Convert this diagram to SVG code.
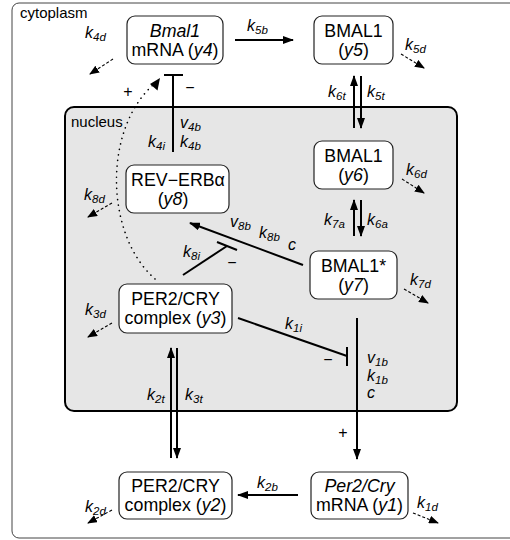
<svg xmlns="http://www.w3.org/2000/svg" width="510" height="540" viewBox="0 0 510 540">
<style>
text{font-family:"Liberation Sans",Arial,sans-serif;fill:#000}
.node rect{fill:#fff;stroke:#222;stroke-width:1.2}
.nt{font-size:17.8px;text-anchor:middle}
.it{font-style:italic}
.lb{font-size:16px;font-style:italic}
.sub{font-size:11.5px}
.sg{font-size:16px;text-anchor:middle}
.ar{stroke:#000;stroke-width:2;fill:none}
.da{stroke:#000;stroke-width:1.1;stroke-dasharray:3 2;fill:none}
.dot{stroke:#000;stroke-width:1.6;stroke-dasharray:0.1 5.5;stroke-linecap:round;fill:none}
</style>
<defs>
<marker id="ah" markerUnits="userSpaceOnUse" markerWidth="11" markerHeight="8" refX="10" refY="4" orient="auto"><path d="M0,0 L11,4 L0,8 z" fill="#000"/></marker>
<marker id="dh" markerUnits="userSpaceOnUse" markerWidth="10" markerHeight="8" refX="9" refY="4" orient="auto"><path d="M0,0 L10,4 L0,8 z" fill="#000"/></marker>
</defs>
<rect x="12" y="3" width="520" height="535" rx="7" fill="none" stroke="#444" stroke-width="1"/>
<rect x="65" y="107" width="392" height="304" rx="9" fill="#e6e6e6" stroke="#000" stroke-width="2"/>
<text x="20" y="18" style="font-size:15px">cytoplasm</text>
<text x="71" y="127" style="font-size:15px">nucleus</text>

<g id="connectors">
<line class="ar" x1="235" y1="40" x2="293" y2="40" marker-end="url(#ah)"/>
<line class="ar" x1="354" y1="128" x2="354" y2="76" marker-end="url(#ah)"/>
<line class="ar" x1="361" y1="76" x2="361" y2="128" marker-end="url(#ah)"/>
<line class="ar" x1="354" y1="236" x2="354" y2="200" marker-end="url(#ah)"/>
<line class="ar" x1="361" y1="200" x2="361" y2="236" marker-end="url(#ah)"/>
<line class="ar" x1="173" y1="152" x2="173" y2="75"/>
<line class="ar" x1="164" y1="75" x2="183" y2="75"/>
<path class="dot" d="M155,279 C105,235 103,130 153,85"/>
<path d="M160,78 L157.5,90.5 L150,84 z" fill="#000"/>
<line class="ar" x1="303" y1="265" x2="190" y2="223" marker-end="url(#ah)"/>
<line class="ar" x1="183" y1="275" x2="227" y2="246"/>
<line class="ar" x1="217" y1="242" x2="237" y2="250"/>
<line class="ar" x1="238" y1="318" x2="347" y2="356"/>
<line class="ar" x1="347" y1="347" x2="347" y2="366"/>
<line class="ar" x1="357" y1="318" x2="357" y2="459" marker-end="url(#ah)"/>
<line class="ar" x1="171" y1="458" x2="171" y2="348" marker-end="url(#ah)"/>
<line class="ar" x1="177" y1="348" x2="177" y2="458" marker-end="url(#ah)"/>
<line class="ar" x1="298" y1="495" x2="238" y2="495" marker-end="url(#ah)"/>
<line class="da" x1="113" y1="59" x2="90" y2="74" marker-end="url(#dh)"/>
<line class="da" x1="401" y1="54" x2="424" y2="68" marker-end="url(#dh)"/>
<line class="da" x1="112" y1="203" x2="88" y2="217" marker-end="url(#dh)"/>
<line class="da" x1="402" y1="179" x2="424" y2="193" marker-end="url(#dh)"/>
<line class="da" x1="404" y1="289" x2="428" y2="303" marker-end="url(#dh)"/>
<line class="da" x1="112" y1="323" x2="88" y2="337" marker-end="url(#dh)"/>
<line class="da" x1="112" y1="510" x2="88" y2="523" marker-end="url(#dh)"/>
<line class="da" x1="413" y1="513" x2="438" y2="523" marker-end="url(#dh)"/>
</g>

<g id="labels">
<text class="lb" x="247" y="31">k<tspan class="sub" dy="3">5b</tspan></text>
<text class="lb" x="85" y="38">k<tspan class="sub" dy="3">4d</tspan></text>
<text class="lb" x="405" y="50">k<tspan class="sub" dy="3">5d</tspan></text>
<text class="lb" x="180" y="128">v<tspan class="sub" dy="3">4b</tspan></text>
<text class="lb" x="180" y="147">k<tspan class="sub" dy="3">4b</tspan></text>
<text class="lb" x="148" y="147">k<tspan class="sub" dy="3">4i</tspan></text>
<text class="lb" x="328" y="97">k<tspan class="sub" dy="3">6t</tspan></text>
<text class="lb" x="367" y="97">k<tspan class="sub" dy="3">5t</tspan></text>
<text class="lb" x="84" y="200">k<tspan class="sub" dy="3">8d</tspan></text>
<text class="lb" x="406" y="175">k<tspan class="sub" dy="3">6d</tspan></text>
<text class="lb" x="324" y="225">k<tspan class="sub" dy="3">7a</tspan></text>
<text class="lb" x="367" y="225">k<tspan class="sub" dy="3">6a</tspan></text>
<text class="lb" x="230" y="227">v<tspan class="sub" dy="3">8b</tspan></text>
<text class="lb" x="259" y="238">k<tspan class="sub" dy="3">8b</tspan></text>
<text class="lb" x="288" y="250">c</text>
<text class="lb" x="183" y="257">k<tspan class="sub" dy="3">8i</tspan></text>
<text class="lb" x="410" y="285">k<tspan class="sub" dy="3">7d</tspan></text>
<text class="lb" x="85" y="315">k<tspan class="sub" dy="3">3d</tspan></text>
<text class="lb" x="285" y="329">k<tspan class="sub" dy="3">1i</tspan></text>
<text class="lb" x="367" y="363">v<tspan class="sub" dy="3">1b</tspan></text>
<text class="lb" x="367" y="381">k<tspan class="sub" dy="3">1b</tspan></text>
<text class="lb" x="367" y="398">c</text>
<text class="lb" x="147" y="400">k<tspan class="sub" dy="3">2t</tspan></text>
<text class="lb" x="185" y="400">k<tspan class="sub" dy="3">3t</tspan></text>
<text class="lb" x="257" y="488">k<tspan class="sub" dy="3">2b</tspan></text>
<text class="lb" x="85" y="512">k<tspan class="sub" dy="3">2d</tspan></text>
<text class="lb" x="417" y="508">k<tspan class="sub" dy="3">1d</tspan></text>
<text class="sg" x="128" y="97">+</text>
<text class="sg" x="190" y="93">−</text>
<text class="sg" x="232" y="268">−</text>
<text class="sg" x="328" y="365">−</text>
<text class="sg" x="343" y="438">+</text>
</g>

<g id="y4" class="node"><rect x="127" y="16" width="96" height="48" rx="8"/>
<text class="nt it" x="175" y="37">Bmal1</text>
<text class="nt" x="175" y="56">mRNA (<tspan class="it">y4</tspan>)</text></g>
<g id="y5" class="node"><rect x="314" y="16" width="79" height="48" rx="8"/>
<text class="nt" x="353.5" y="37">BMAL1</text>
<text class="nt" x="353.5" y="56">(<tspan class="it">y5</tspan>)</text></g>
<g id="y6" class="node"><rect x="314" y="141" width="79" height="48" rx="8"/>
<text class="nt" x="353.5" y="162">BMAL1</text>
<text class="nt" x="353.5" y="181">(<tspan class="it">y6</tspan>)</text></g>
<g id="y7" class="node"><rect x="310" y="251" width="87" height="48" rx="8"/>
<text class="nt" x="353.5" y="272">BMAL1*</text>
<text class="nt" x="353.5" y="291">(<tspan class="it">y7</tspan>)</text></g>
<g id="y8" class="node"><rect x="126" y="165" width="103" height="48" rx="8"/>
<text class="nt" x="178" y="186">REV−ERBα</text>
<text class="nt" x="173" y="205">(<tspan class="it">y8</tspan>)</text></g>
<g id="y3" class="node"><rect x="119" y="284" width="113" height="49" rx="8"/>
<text class="nt" x="175.5" y="305">PER2/CRY</text>
<text class="nt" x="175.5" y="324">complex (<tspan class="it">y3</tspan>)</text></g>
<g id="y2" class="node"><rect x="119" y="472" width="113" height="47" rx="8"/>
<text class="nt" x="175.5" y="492">PER2/CRY</text>
<text class="nt" x="175.5" y="511">complex (<tspan class="it">y2</tspan>)</text></g>
<g id="y1" class="node"><rect x="311" y="472" width="97" height="47" rx="8"/>
<text class="nt it" x="359.5" y="492">Per2/Cry</text>
<text class="nt" x="359.5" y="511">mRNA (<tspan class="it">y1</tspan>)</text></g>
</svg>
